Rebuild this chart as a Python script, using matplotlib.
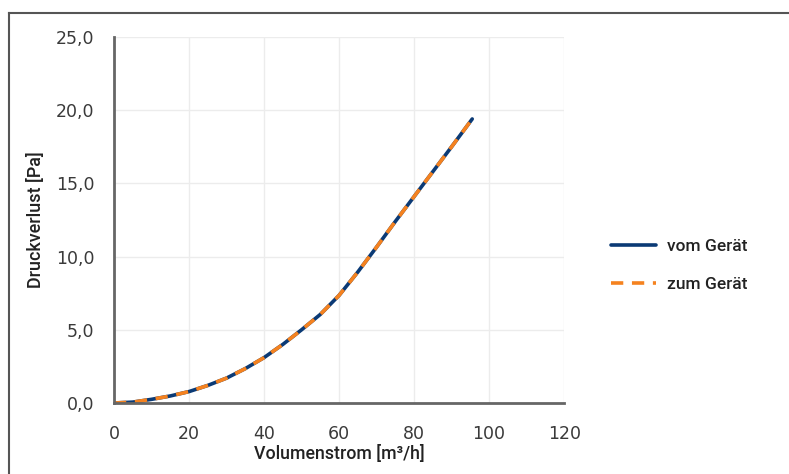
import matplotlib.pyplot as plt
from matplotlib.lines import Line2D

# Volumenstrom [m³/h] und Druckverlust [Pa]
flow = [0, 5, 10, 15, 20, 25, 30, 35, 40, 45, 50, 55, 60, 65, 70, 75, 80, 85, 90, 95.5]
loss_from = [0.0, 0.06, 0.25, 0.48, 0.78, 1.2, 1.7, 2.35, 3.1, 4.0, 5.0, 6.05, 7.35, 8.95, 10.65, 12.4, 14.1, 15.8, 17.5, 19.4]
loss_to = loss_from

x_ticks = [0, 20, 40, 60, 80, 100, 120]
y_ticks = [0, 5, 10, 15, 20, 25]
y_ticklabels = ["0,0", "5,0", "10,0", "15,0", "20,0", "25,0"]

navy = "#0b3a75"
orange = "#f5821f"

fig = plt.figure(figsize=(7.89, 4.74), dpi=100)
ax = fig.add_axes([0.1445, 0.1498, 0.5705, 0.7722])

ax.plot(flow, loss_from, color=navy, lw=2.6, solid_capstyle="round", label="vom Gerät")
ax.plot(flow, loss_to, color=orange, lw=2.6, dashes=(3.4, 2.4), label="zum Gerät")

ax.set_xlim(0, 120)
ax.set_ylim(0, 25)
ax.set_xticks(x_ticks)
ax.set_yticks(y_ticks)
ax.set_yticklabels(y_ticklabels)
ax.tick_params(length=0, pad=14, labelsize=12.5, labelcolor="#3a3a3a")
ax.tick_params(axis="x", pad=16)

ax.grid(True, color="#ececec", lw=1)
ax.set_axisbelow(True)
for s in ["top", "right"]:
    ax.spines[s].set_visible(False)
for s in ["left", "bottom"]:
    ax.spines[s].set_color("#666666")
    ax.spines[s].set_linewidth(2)

ax.set_xlabel("Volumenstrom [m³/h]", fontsize=12.8, family="Roboto", weight="medium", color="#222222", labelpad=1)
ax.set_ylabel("Druckverlust [Pa]", fontsize=13, family="Roboto", weight="medium", color="#222222", labelpad=8)

fig.legend(loc="center left", bbox_to_anchor=(0.755, 0.440), frameon=False,
           prop={"family": "Roboto", "weight": "medium", "size": 12.5},
           handlelength=2.6, handletextpad=0.6, labelspacing=1.35, labelcolor="#222222")

# Rahmen links und oben
fig.add_artist(Line2D([0.0114, 0.0114], [0, 0.9726], transform=fig.transFigure, color="#555555", lw=1.5))
fig.add_artist(Line2D([0.0114, 1.0], [0.9726, 0.9726], transform=fig.transFigure, color="#555555", lw=1.5))

fig.savefig("out.png", dpi=100)
